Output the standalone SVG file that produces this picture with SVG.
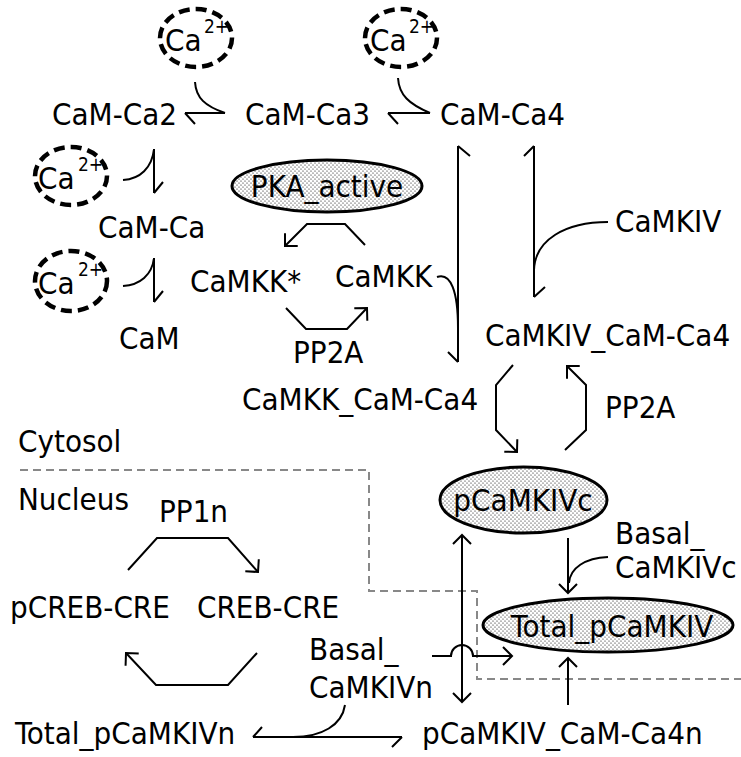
<svg xmlns="http://www.w3.org/2000/svg" width="741" height="757" viewBox="0 0 741 757">
<defs>
<style>
.t{font-family:"DejaVu Sans Condensed","DejaVu Sans",sans-serif;font-stretch:condensed;font-size:31px;fill:#000}
.sup{font-family:"DejaVu Sans Condensed","DejaVu Sans",sans-serif;font-stretch:condensed;font-size:19px;fill:#000}
.ln{fill:none;stroke:#000;stroke-width:2}
.ca{fill:#fff;stroke:#000;stroke-width:4.5;stroke-dasharray:11 6}
.sp{fill:url(#dots);stroke:#000;stroke-width:3}
.cmp{fill:none;stroke:#888;stroke-width:2;stroke-dasharray:8 5}
</style>
<pattern id="dots" width="4" height="4" patternUnits="userSpaceOnUse">
<rect width="4" height="4" fill="#fff"/>
<circle cx="1" cy="1" r="0.6" fill="#000"/>
<circle cx="3" cy="3" r="0.6" fill="#000"/>
</pattern>
<marker id="ah" viewBox="0 0 12 20" refX="10" refY="10" markerWidth="12" markerHeight="20" orient="auto-start-reverse" markerUnits="userSpaceOnUse">
<path d="M1,1 L10,10 L1,19" fill="none" stroke="#000" stroke-width="2"/>
</marker>
</defs>
<rect width="741" height="757" fill="#fff"/>

<path class="cmp" d="M20,470 H369 V591 H477 V679 H741"/>

<g id="connectors">
<path class="ln" d="M185,113 H225 M185,113 l10,11 M195,82 C196,98 205,106 225,113"/>
<path class="ln" d="M388,113 H430 M388,113 l10,11 M398,78 C399,95 409,104 430,113"/>
<path class="ln" d="M154,149 V193 M154,193 l9,-11 M123,180 C140,179 152,168 154,149"/>
<path class="ln" d="M154,258 V302 M154,302 l9,-11 M123,286 C140,285 152,275 154,258"/>
<path class="ln" d="M458,146 V362 M458,146 l12,10 M458,362 l-10,-10 M437,277 C451,272 458,292 458,328"/>
<path class="ln" d="M534,146 V297 M534,146 l-10,10 M534,297 l11,-10 M608,222 C565,222 535,240 534,270"/>
<polyline class="ln" points="365,245 345,224 307,224 285,246" marker-end="url(#ah)"/>
<polyline class="ln" points="286,308 306,329 347,329 367,308" marker-end="url(#ah)"/>
<polyline class="ln" points="513,365 496,385 496,430 517,452" marker-end="url(#ah)"/>
<polyline class="ln" points="565,450 586,430 586,385 567,366" marker-end="url(#ah)"/>
<polyline class="ln" points="128,570 157,538 228,538 258,572" marker-end="url(#ah)"/>
<polyline class="ln" points="257,653 228,685 156,685 126,653" marker-end="url(#ah)"/>
<path class="ln" d="M568,538 V593" marker-end="url(#ah)"/>
<path class="ln" d="M608,557 C585,558 570,568 569,583"/>
<path class="ln" d="M568,705 V658" marker-end="url(#ah)"/>
<path class="ln" d="M462,535 V702" marker-start="url(#ah)" marker-end="url(#ah)"/>
<path class="ln" d="M432,656 H451 A11,11 0 0 1 473,656 H512" marker-end="url(#ah)"/>
<path class="ln" d="M253,737 H402 M253,737 l9,-10 M402,737 l-10,10 M345,705 C342,725 322,737 293,737"/>
</g>

<g id="ca1"><ellipse class="ca" cx="196" cy="38" rx="36" ry="29"/><text class="t" x="165" y="51">Ca</text><text class="sup" x="204" y="33">2+</text></g>
<g id="ca2"><ellipse class="ca" cx="401" cy="38" rx="36" ry="29"/><text class="t" x="370" y="51">Ca</text><text class="sup" x="409" y="33">2+</text></g>
<g id="ca3"><ellipse class="ca" cx="71" cy="176" rx="36" ry="29"/><text class="t" x="38" y="189">Ca</text><text class="sup" x="78" y="171">2+</text></g>
<g id="ca4"><ellipse class="ca" cx="71" cy="281" rx="36" ry="30"/><text class="t" x="38" y="294">Ca</text><text class="sup" x="78" y="276">2+</text></g>

<g id="CaM-Ca2"><text class="t" x="52" y="125">CaM-Ca2</text></g>
<g id="CaM-Ca3"><text class="t" x="245" y="125">CaM-Ca3</text></g>
<g id="CaM-Ca4"><text class="t" x="440" y="125">CaM-Ca4</text></g>
<g id="CaM-Ca"><text class="t" x="98" y="238">CaM-Ca</text></g>
<g id="CaM"><text class="t" x="119" y="349">CaM</text></g>
<g id="PKA_active"><ellipse class="sp" cx="327" cy="186" rx="95" ry="26"/><text class="t" x="327" y="197" text-anchor="middle">PKA_active</text></g>
<g id="CaMKKstar"><text class="t" x="190" y="292">CaMKK*</text></g>
<g id="CaMKK"><text class="t" x="335" y="287">CaMKK</text></g>
<g id="PP2A_1"><text class="t" x="293" y="363">PP2A</text></g>
<g id="CaMKIV"><text class="t" x="615" y="232">CaMKIV</text></g>
<g id="CaMKIV_CaM-Ca4"><text class="t" x="485" y="346">CaMKIV_CaM-Ca4</text></g>
<g id="CaMKK_CaM-Ca4"><text class="t" x="242" y="410">CaMKK_CaM-Ca4</text></g>
<g id="PP2A_2"><text class="t" x="605" y="418">PP2A</text></g>
<g id="Cytosol"><text class="t" x="18" y="452">Cytosol</text></g>
<g id="Nucleus"><text class="t" x="18" y="510">Nucleus</text></g>
<g id="PP1n"><text class="t" x="159" y="522">PP1n</text></g>
<g id="pCaMKIVc"><ellipse class="sp" cx="523.5" cy="500" rx="83.5" ry="33"/><text class="t" x="523" y="511" text-anchor="middle">pCaMKIVc</text></g>
<g id="Basal_CaMKIVc"><text class="t" x="615" y="544">Basal_</text><text class="t" x="615" y="578">CaMKIVc</text></g>
<g id="pCREB-CRE"><text class="t" x="10" y="618">pCREB-CRE</text></g>
<g id="CREB-CRE"><text class="t" x="197" y="618">CREB-CRE</text></g>
<g id="Total_pCaMKIV"><ellipse class="sp" cx="608" cy="625" rx="125" ry="27"/><text class="t" x="612" y="637" text-anchor="middle">Total_pCaMKIV</text></g>
<g id="Basal_CaMKIVn"><text class="t" x="309" y="660">Basal_</text><text class="t" x="309" y="698">CaMKIVn</text></g>
<g id="Total_pCaMKIVn"><text class="t" x="15" y="744">Total_pCaMKIVn</text></g>
<g id="pCaMKIV_CaM-Ca4n"><text class="t" x="422" y="744">pCaMKIV_CaM-Ca4n</text></g>
</svg>
